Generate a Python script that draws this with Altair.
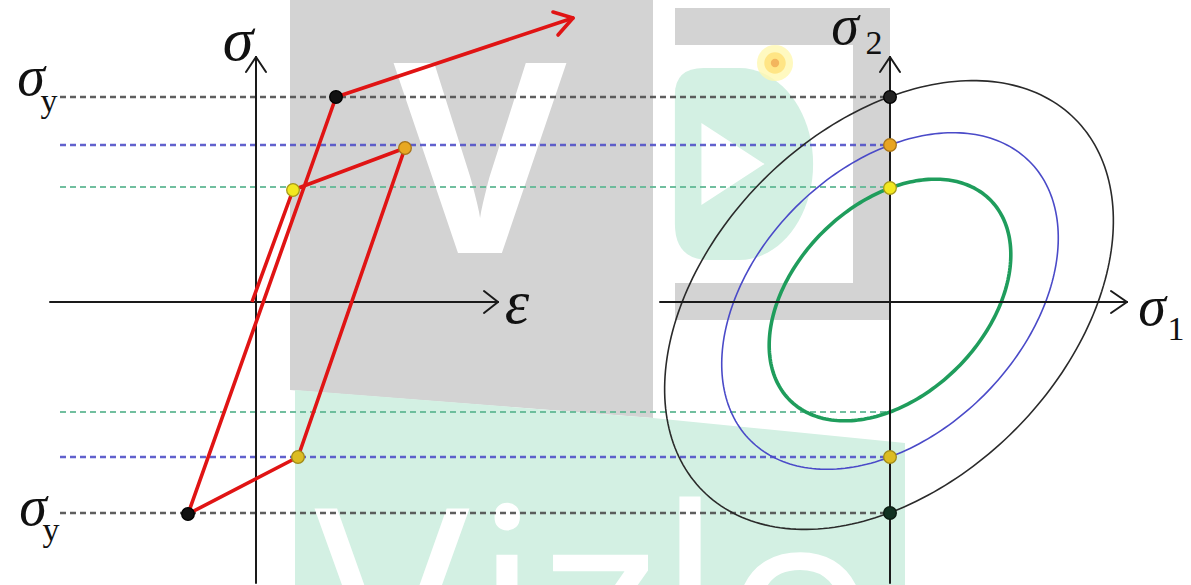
import altair as alt
import pandas as pd
import numpy as np

W, H = 1191, 585

# ---------------- watermark background ----------------
gray_area_x = [290, 653]
gray_area_top = [0, 0]
gray_area_bottom = [390, 418]

bracket_x1 = [675, 853, 675]
bracket_x2 = [890, 890, 890]
bracket_y1 = [8, 8, 283]
bracket_y2 = [45, 320, 320]

mint_area_x = [295, 653, 905]
mint_area_top = [390, 418, 443]
mint_area_bottom = [585, 585, 585]

badge_center = {"x": [744], "y": [164]}
badge_path = ("M -0.72 -0.72 Q -0.72 -1 -0.42 -1 L -0.05 -1 "
              "A 0.77 1 0 0 1 -0.05 1 L -0.36 1 Q -0.72 1 -0.72 0.62 Z")
play_center = {"x": [733], "y": [164]}
glow_center = {"x": [775], "y": [63]}

top_letter = ["V"]
top_letter_x = [480]
top_letter_base = [253]

wm_letters = ["V", "i", "z", "l", "o"]
wm_letter_x = [392, 507, 599, 690, 800]
wm_letter_base = [694, 694, 694, 694, 694]

# ---------------- stress-strain diagram ----------------
path_x = [252, 293, 405, 298, 188, 336, 573]
path_y = [302, 190, 148, 457, 514, 97, 18]
head_x1 = [573, 573]
head_y1 = [18, 18]
head_x2 = [553, 558]
head_y2 = [12, 35]

dash_levels = [97, 145, 187, 412, 457, 513]
dash_colors = ["#4d4d4d", "#5050c8", "#62b895", "#62b895", "#5050c8", "#4d4d4d"]
dash_widths = [2.4, 2.4, 1.8, 1.8, 2.4, 2.4]
dash_x_start = 60
dash_x_end = 890

left_dot_x = [336, 293, 405, 298, 188]
left_dot_y = [97, 190, 148, 457, 514]
left_dot_fill = ["#111111", "#f2e820", "#e8a822", "#dcbc22", "#111111"]
left_dot_stroke = ["#000000", "#a89a18", "#a87418", "#a08a18", "#000000"]

right_dot_y = [97, 145, 188, 457, 513]
right_dot_fill = ["#222222", "#e8a422", "#f2e820", "#dcbc22", "#123222"]
right_dot_stroke = ["#000000", "#a87418", "#a89a18", "#a08a18", "#0a1a10"]

# axis segments (x, y, x2, y2)
axis_x1 = [256, 256, 256, 50, 498, 498, 890, 890, 890, 660, 1127, 1127]
axis_y1 = [583, 57, 57, 302, 302, 302, 583, 57, 57, 302, 302, 302]
axis_x2 = [256, 246, 266, 498, 484, 484, 890, 880, 900, 1127, 1111, 1111]
axis_y2 = [57, 72, 72, 302, 291, 313, 57, 72, 72, 302, 291, 313]

# yield ellipses in the sigma1-sigma2 plane
ell_names = ["green", "blue", "black"]
ell_cx = [890, 890, 889]
ell_cy = [300, 301, 305]
ell_r = [112, 156, 208]
ell_colors = ["#1f9d5c", "#4a4ac8", "#2a2a2a"]
ell_widths = [3.6, 1.6, 1.6]
ell_k = 0.75

# labels
it_text = ["σ", "ε", "σ", "σ", "σ", "σ"]
it_x = [238, 517, 31, 33, 845, 1152]
it_y = [60, 323, 95, 525, 44, 325]
it_size = [62, 62, 56, 56, 56, 56]
sub_text = ["y", "y", "2", "1"]
sub_x = [49, 51, 874, 1176]
sub_y = [112, 541, 54, 340]

# ---------------- build tables ----------------
xs = alt.Scale(domain=[0, W], nice=False, zero=False)
ys = alt.Scale(domain=[0, H], nice=False, zero=False, reverse=True)


def X(f="x"):
    return alt.X(f"{f}:Q", scale=xs, axis=None)


def Y(f="y"):
    return alt.Y(f"{f}:Q", scale=ys, axis=None)


gray_df = pd.DataFrame({"x": gray_area_x, "y": gray_area_top, "y2": gray_area_bottom})
gray_layer = alt.Chart(gray_df).mark_area(color="#d3d3d3", orient="vertical").encode(
    x=X(), y=Y(), y2="y2:Q")

bracket_df = pd.DataFrame({"x": bracket_x1, "x2": bracket_x2, "y": bracket_y1, "y2": bracket_y2})
bracket_layer = alt.Chart(bracket_df).mark_rect(color="#d3d3d3").encode(
    x=X(), x2="x2:Q", y=Y(), y2="y2:Q")

mint_df = pd.DataFrame({"x": mint_area_x, "y": mint_area_top, "y2": mint_area_bottom})
mint_layer = alt.Chart(mint_df).mark_area(color="#d3f0e3", orient="vertical").encode(
    x=X(), y=Y(), y2="y2:Q")

badge_layer = alt.Chart(pd.DataFrame(badge_center)).mark_point(
    shape=badge_path, filled=True, color="#d3f0e3", opacity=1, size=192 * 192).encode(
    x=X(), y=Y())

play_layer = alt.Chart(pd.DataFrame(play_center)).mark_point(
    shape="M -0.77 -1 L 0.77 0 L -0.77 1 Z", filled=True, color="white",
    opacity=1, size=6724).encode(x=X(), y=Y())

glow_df = pd.DataFrame({"x": glow_center["x"] * 3, "y": glow_center["y"] * 3,
                        "s": [1300, 460, 70], "f": ["#fff7b0", "#ffe27a", "#f3b55e"],
                        "o": [0.8, 0.85, 1.0], "i": [0, 1, 2]})
glow_layer = alt.Chart(glow_df).mark_circle(strokeWidth=0).encode(
    x=X(), y=Y(), size=alt.Size("s:Q", scale=None),
    fill=alt.Fill("f:N", scale=None), opacity=alt.Opacity("o:Q", scale=None),
    order="i:Q")

top_letter_layer = alt.Chart(pd.DataFrame({"x": top_letter_x, "y": top_letter_base, "t": top_letter})).mark_text(
    font="Open Sans", fontWeight="bold", fontSize=266, color="white",
    align="center", baseline="alphabetic").encode(x=X(), y=Y(), text="t:N")

wm_layer = alt.Chart(pd.DataFrame({"x": wm_letter_x, "y": wm_letter_base, "t": wm_letters})).mark_text(
    font="Open Sans", fontWeight="normal", fontSize=260, color="white",
    align="center", baseline="alphabetic", clip=True).encode(x=X(), y=Y(), text="t:N")

# dashed guide lines
dash_df = pd.DataFrame({"x": [dash_x_start] * 6, "x2": [dash_x_end] * 6, "y": dash_levels,
                        "c": dash_colors, "w": dash_widths})
dash_layer = alt.Chart(dash_df).mark_rule(strokeDash=[6, 4], opacity=0.9).encode(
    x=X(), x2="x2:Q", y=Y(), y2="y:Q",
    color=alt.Color("c:N", scale=None), strokeWidth=alt.StrokeWidth("w:Q", scale=None))

# axes
axis_df = pd.DataFrame({"x": axis_x1, "y": axis_y1, "x2": axis_x2, "y2": axis_y2})
axis_layer = alt.Chart(axis_df).mark_rule(color="#1a1a1a", strokeWidth=2, strokeCap="round").encode(
    x=X(), y=Y(), x2="x2:Q", y2="y2:Q")

# ellipses
rows = []
t = np.linspace(0, 2 * np.pi, 241)
for name, cx, cy, r, c, w in zip(ell_names, ell_cx, ell_cy, ell_r, ell_colors, ell_widths):
    a = r / np.sqrt(1 - ell_k / 2)
    b = r / np.sqrt(1 + ell_k / 2)
    u = a * np.cos(t)
    v = b * np.sin(t)
    s1 = (u - v) / np.sqrt(2)
    s2 = (u + v) / np.sqrt(2)
    for i, (p, q) in enumerate(zip(s1, s2)):
        rows.append({"e": name, "i": i, "x": cx + p, "y": cy - q, "c": c, "w": w})
ell_df = pd.DataFrame(rows)
ell_layer = alt.Chart(ell_df).mark_line().encode(
    x=X(), y=Y(), detail="e:N", order="i:Q",
    color=alt.Color("c:N", scale=None), strokeWidth=alt.StrokeWidth("w:Q", scale=None))

# red stress-strain path
path_df = pd.DataFrame({"x": path_x, "y": path_y, "i": list(range(len(path_x)))})
path_layer = alt.Chart(path_df).mark_line(color="#e01414", strokeWidth=3.6, strokeJoin="round").encode(
    x=X(), y=Y(), order="i:Q")
head_df = pd.DataFrame({"x": head_x1, "y": head_y1, "x2": head_x2, "y2": head_y2})
head_layer = alt.Chart(head_df).mark_rule(color="#e01414", strokeWidth=3.6, strokeCap="round").encode(
    x=X(), y=Y(), x2="x2:Q", y2="y2:Q")

# dots
dot_df = pd.DataFrame({
    "x": left_dot_x + [890] * 5,
    "y": left_dot_y + right_dot_y,
    "f": left_dot_fill + right_dot_fill,
    "s": left_dot_stroke + right_dot_stroke,
})
dot_layer = alt.Chart(dot_df).mark_circle(size=160, opacity=1, strokeWidth=1.3).encode(
    x=X(), y=Y(), fill=alt.Fill("f:N", scale=None), stroke=alt.Stroke("s:N", scale=None))

# labels
it_df = pd.DataFrame({"x": it_x, "y": it_y, "t": it_text, "s": it_size})
it_layer = alt.Chart(it_df).mark_text(
    font="Liberation Serif", fontStyle="italic", color="#111111",
    align="center", baseline="alphabetic").encode(
    x=X(), y=Y(), text="t:N", size=alt.Size("s:Q", scale=None))
sub_df = pd.DataFrame({"x": sub_x, "y": sub_y, "t": sub_text})
sub_layer = alt.Chart(sub_df).mark_text(
    font="Liberation Serif", fontSize=34, color="#111111",
    align="center", baseline="alphabetic").encode(x=X(), y=Y(), text="t:N")

chart = alt.layer(
    gray_layer, bracket_layer, mint_layer, badge_layer, play_layer, glow_layer,
    top_letter_layer, wm_layer,
    dash_layer, ell_layer, axis_layer, path_layer, head_layer, dot_layer,
    it_layer, sub_layer,
).properties(
    width=W, height=H, padding=0, autosize=alt.AutoSizeParams(type="none"),
    background="white",
).configure_view(stroke=None)

chart.save("out.html", embed_options={"renderer": "svg", "actions": False})
